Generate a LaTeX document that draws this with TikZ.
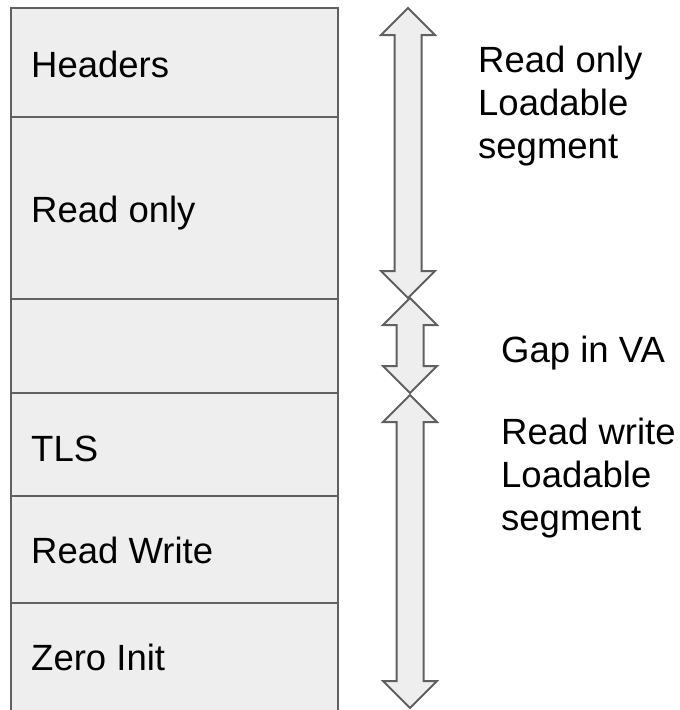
\documentclass[tikz,border=0pt]{standalone}
\usepackage{fontspec}
\setmainfont{Liberation Sans}
\begin{document}
\begin{tikzpicture}[x=1pt,y=-1pt,
  segbox/.style={draw=linegray, line width=2pt, fill=boxgray},
  blocklabel/.style={anchor=base west, inner sep=0pt, text=black,
    font=\fontsize{36.5}{43}\selectfont},
  sidelabel/.style={anchor=base west, inner sep=0pt, align=left, text=black,
    font=\fontsize{36.5}{43}\selectfont},
  spanarrow/.style={draw=linegray, line width=2pt, fill=boxgray, line join=miter}]
\definecolor{linegray}{HTML}{606060}
\definecolor{boxgray}{HTML}{EEEEEE}
\useasboundingbox (0,0) rectangle (680,710);

% Vertical double arrow: centre x, top tip y, bottom tip y
\newcommand\spanbar[3]{%
  \path[spanarrow] (#1,#2) -- ({#1+27},{#2+27}) -- ({#1+13.5},{#2+27})
    -- ({#1+13.5},{#3-27}) -- ({#1+27},{#3-27}) -- (#1,#3)
    -- ({#1-27},{#3-27}) -- ({#1-13.5},{#3-27}) -- ({#1-13.5},{#2+27})
    -- ({#1-27},{#2+27}) -- cycle;}

% Memory layout blocks
\draw[segbox] (11,8) rectangle (338,117);
\draw[segbox] (11,117) rectangle (338,299);
\draw[segbox] (11,299) rectangle (338,393);
\draw[segbox] (11,393) rectangle (338,496);
\draw[segbox] (11,496) rectangle (338,603);
\draw[segbox] (11,603) rectangle (338,714);

\node[blocklabel] (hdr) at (31,77) {Headers};
\node[blocklabel] (ro)  at (31,222) {Read only};
\node[blocklabel] (tls) at (31,461) {TLS};
\node[blocklabel] (rw)  at (31,563) {Read Write};
\node[blocklabel] (zi)  at (31,670) {Zero Init};

% Extent arrows
\spanbar{408}{8}{298}
\spanbar{410}{298}{393}
\spanbar{410}{395}{708}

% Multi-line labels: the base anchor sits on the last line
\node[sidelabel] (roseg) at (478,158) {Read only\\Loadable\\segment};
\node[sidelabel] (gap)   at (501,362) {Gap in VA};
\node[sidelabel] (rwseg) at (501,530) {Read write\\Loadable\\segment};
\end{tikzpicture}
\end{document}
